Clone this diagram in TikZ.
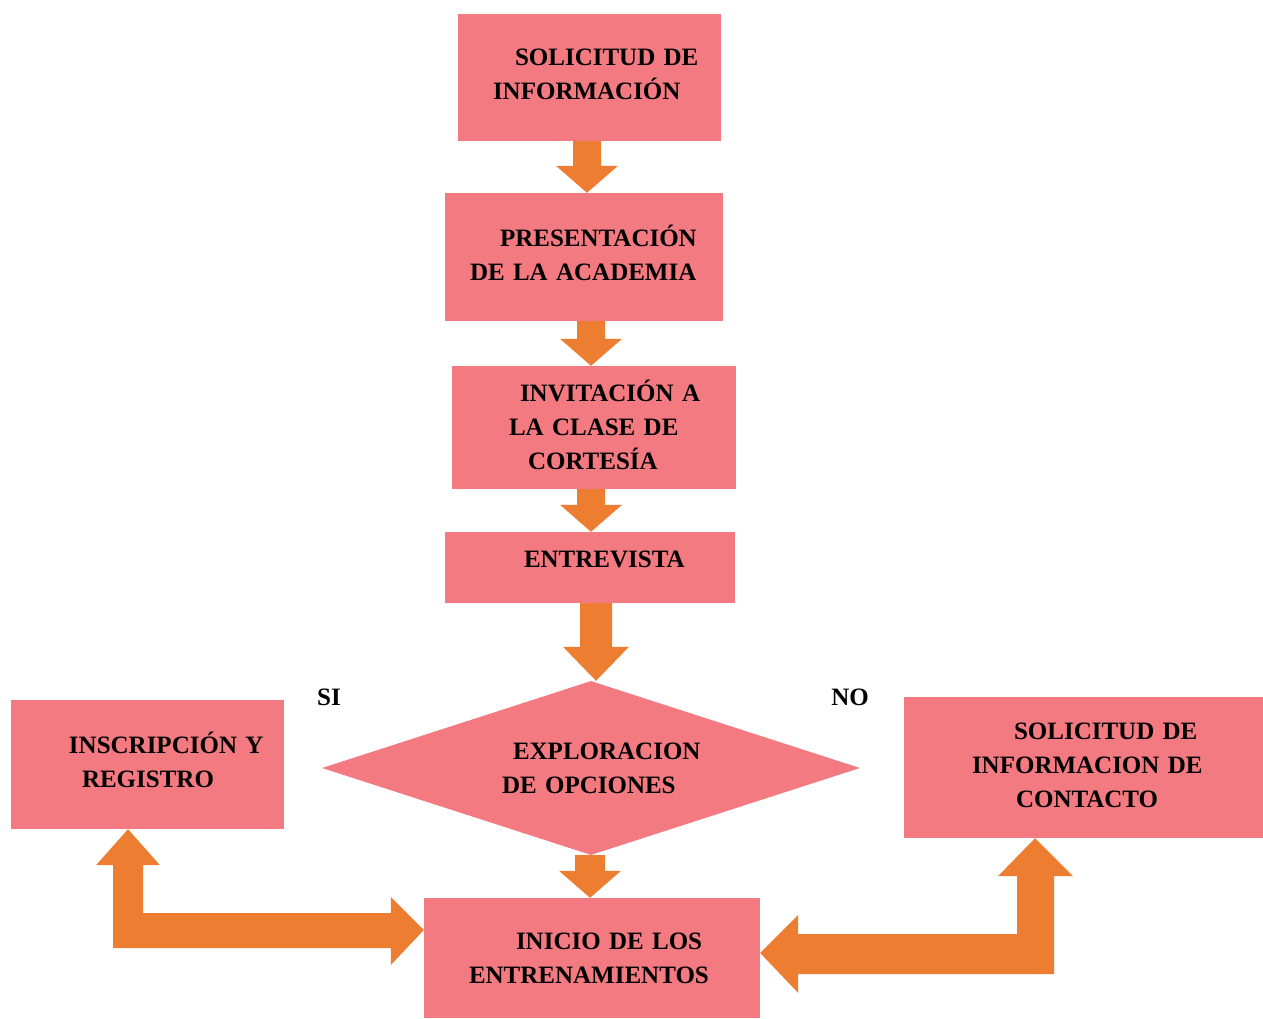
\documentclass[tikz,border=0pt]{standalone}
\usepackage{fontspec}
\setmainfont{Liberation Serif}
\usetikzlibrary{shapes.geometric,calc}
\definecolor{boxpink}{RGB}{242,122,128}
\definecolor{arrorange}{RGB}{237,125,49}
\newcommand{\downblock}[6]{%
  \fill[arr] let \p1=(#1.south), \p2=(#2.north) in
    (#3pt-#4pt,\y1) -- (#3pt+#4pt,\y1) -- (#3pt+#4pt,\y2+#6pt) -- (#3pt+#5pt,\y2+#6pt)
    -- (#3pt,\y2) -- (#3pt-#5pt,\y2+#6pt) -- (#3pt-#4pt,\y2+#6pt) -- cycle;}
\begin{document}
\begin{tikzpicture}[x=1pt,y=1pt,
  every node/.style={font=\fontsize{25}{34}\selectfont\bfseries, inner sep=0pt},
  box/.style={fill=boxpink, align=left, anchor=center},
  arr/.style={fill=arrorange}]
\useasboundingbox (0,0) rectangle (1263,1018);
\fill[white] (0,0) rectangle (1263,1018);
% boxes
\node[box, minimum width=263pt, minimum height=127pt, text width=263pt, text depth=40pt] (b1) at (589.5,940.5)
  {\hspace*{57pt}SOLICITUD DE\\\hspace*{35pt}INFORMACIÓN};
\node[box, minimum width=278pt, minimum height=128pt, text width=278pt, text depth=42pt] (b2) at (584,761)
  {\hspace*{55pt}PRESENTACIÓN\\\hspace*{25pt}DE LA ACADEMIA};
\node[box, minimum width=284pt, minimum height=123pt, text width=284pt, text depth=73pt] (b3) at (594,590.5)
  {\hspace*{68pt}INVITACIÓN A\\\hspace*{57pt}LA CLASE DE\\\hspace*{76pt}CORTESÍA};
\node[box, minimum width=290pt, minimum height=71pt, text width=290pt, text depth=17pt] (b4) at (590,450.5)
  {\hspace*{79pt}ENTREVISTA};
\node[diamond, fill=boxpink, aspect=3.09, minimum width=538pt, minimum height=174pt,
  text width=224pt, align=left] (d) at (591,250)
  {\hspace*{34pt}EXPLORACION\\\hspace*{23pt}DE OPCIONES};
\node[box, minimum width=336pt, minimum height=120pt, text width=336pt] (b5) at (592,60)
  {\hspace*{92pt}INICIO DE LOS\\\hspace*{45pt}ENTRENAMIENTOS};
\node[box, minimum width=273pt, minimum height=129pt, text width=273pt, text depth=44pt] (bl) at (147.5,253.5)
  {\hspace*{58pt}INSCRIPCIÓN Y\\\hspace*{71pt}REGISTRO};
\node[box, minimum width=359pt, minimum height=141pt, text width=359pt, text depth=73pt] (br) at (1083.5,250.5)
  {\hspace*{110pt}SOLICITUD DE\\\hspace*{68pt}INFORMACION DE\\\hspace*{112pt}CONTACTO};
% labels
\node (si) at (329,321) {SI};
\node (no) at (850,321) {NO};
% straight arrows
\downblock{b1}{b2}{587}{14}{31}{27}
\downblock{b2}{b3}{591}{14}{31}{27}
\downblock{b3}{b4}{591}{14}{31}{27}
\downblock{b4}{d}{596}{16}{33}{34}
\downblock{d}{b5}{590}{15}{31}{27}
% bent arrows
\fill[arr] let \p1=(bl.south), \p2=(b5.west) in
  (128pt,\y1) -- (160pt,\y1-36pt) -- (143pt,\y1-36pt) -- (143pt,105pt) -- (\x2-33pt,105pt)
  -- (\x2-33pt,121pt) -- (\x2,88pt) -- (\x2-33pt,53pt) -- (\x2-33pt,70pt) -- (113pt,70pt)
  -- (113pt,\y1-36pt) -- (96pt,\y1-36pt) -- cycle;
\fill[arr] let \p1=(br.south), \p2=(b5.east) in
  (1035pt,\y1) -- (1073pt,\y1-38pt) -- (1054pt,\y1-38pt) -- (1054pt,44pt) -- (\x2+38pt,44pt)
  -- (\x2+38pt,25pt) -- (\x2,65pt) -- (\x2+38pt,103pt) -- (\x2+38pt,84pt) -- (1017pt,84pt)
  -- (1017pt,\y1-38pt) -- (998pt,\y1-38pt) -- cycle;
\end{tikzpicture}
\end{document}
